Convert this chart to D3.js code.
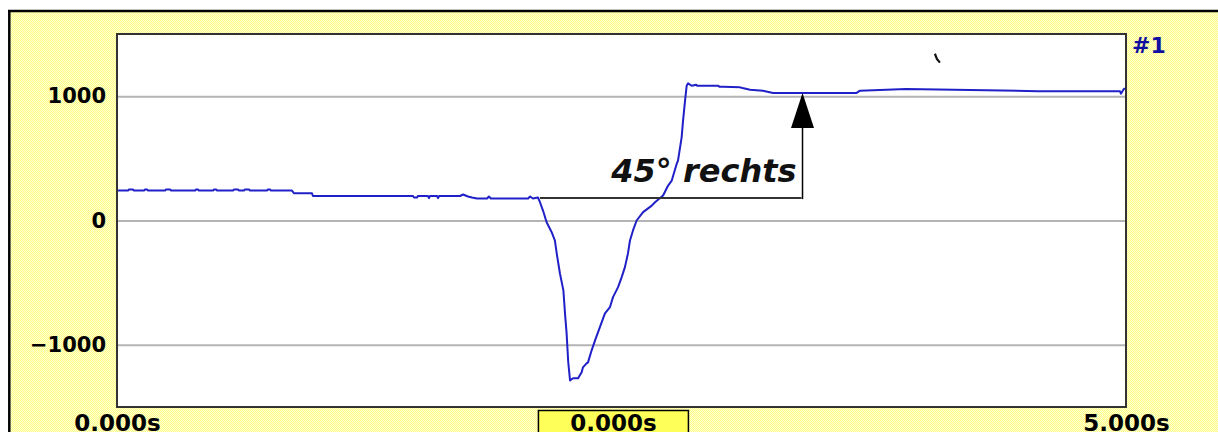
<!DOCTYPE html>
<html>
<head>
<meta charset="utf-8">
<script src="https://cdn.jsdelivr.net/npm/d3@7"></script>
<style>
html,body{margin:0;padding:0;background:#fff;}
svg{display:block;}
</style>
</head>
<body>
<script>
// ---- data ----
const timeS = [0,0.0545,0.0595,0.079,0.084,0.134,0.139,0.149,0.154,0.238,0.243,0.263,0.268,0.387,0.391,0.401,0.406,0.476,0.481,0.491,0.496,0.575,0.580,0.600,0.605,0.629,0.634,0.654,0.659,0.743,0.748,0.758,0.763,0.867,0.877,0.966,0.971,1.467,1.472,1.487,1.491,1.541,1.546,1.551,1.586,1.591,1.596,1.700,1.715,1.739,1.759,1.784,1.834,1.843,1.853,2.037,2.047,2.061,2.086,
  2.096,2.111,2.129,2.154,2.170,2.179,2.195,2.212,2.220,2.228,2.236,2.245,2.260,2.285,2.303,2.309,2.327,2.334,2.352,2.369,2.393,2.418,2.443,2.458,2.483,2.501,2.517,2.532,2.542,2.557,2.575,2.607,2.650,2.666,2.706,2.731,2.749,2.774,2.780,2.798,2.805,2.815,2.823,2.830,2.848,2.870,2.875,2.922,2.980,2.985,3.003,3.087,3.100,3.137,3.201,3.251,3.385,3.665,3.682,3.910,4.564,4.970,4.975,4.990,5.0];
const signal = [241,241,249,249,241,241,249,249,241,241,249,249,241,241,249,249,241,241,249,249,241,241,249,249,241,241,249,249,241,241,249,249,241,241,219,219,197,197,185,185,197,197,180,197,197,180,197,197,209,193,185,177,177,193,177,177,193,177,185,
  147,80,-14,-94,-161,-265,-426,-562,-747,-908,-1138,-1286,-1269,-1269,-1218,-1181,-1149,-1141,-1044,-964,-857,-747,-696,-616,-536,-455,-375,-265,-161,-80,0,67,120,147,201,281,321,458,482,669,803,964,1084,1103,1084,1092,1084,1084,1084,1076,1076,1071,1065,1052,1044,1026,1026,1026,1044,1058,1040,1040,1020,1060,1060];
const yTicks = [-1000, 0, 1000];
const xTicks = [0, 5];
const xTickLabels = ["0.000s", "5.000s"];
const cursorTime = 2.46;
const cursorLabel = "0.000s";
const channelLabel = "#1";
const annotText = "45° rechts";
const annotTime = 3.397;      // arrow position
const annotFrom = 2.096;      // start of horizontal reference line
const annotBase = 180;        // level of reference line
const annotTarget = 1026;     // arrow tip level
const strayMark = [[4.053, 1341], [4.063, 1300], [4.078, 1270]];

// ---- layout ----
const W = 1218, H = 432;
const svg = d3.select("body").append("svg").attr("width", W).attr("height", H);
const defs = svg.append("defs");
const pat = defs.append("pattern").attr("id","dots").attr("width",2).attr("height",2)
  .attr("patternUnits","userSpaceOnUse");
pat.append("rect").attr("width",2).attr("height",2).attr("fill","#ffffd2");
pat.append("rect").attr("width",1).attr("height",1).attr("fill","#ffff88");
pat.append("rect").attr("x",1).attr("y",1).attr("width",1).attr("height",1).attr("fill","#ffff88");

// outer frame
svg.append("rect").attr("x",0).attr("y",0).attr("width",W).attr("height",H).attr("fill","#fff");
svg.append("rect").attr("x",9).attr("y",11).attr("width",W-9).attr("height",H-11).attr("fill","url(#dots)");
svg.append("line").attr("x1",8).attr("x2",W).attr("y1",11).attr("y2",11).attr("stroke","#000").attr("stroke-width",2.5);
svg.append("line").attr("x1",9.3).attr("x2",9.3).attr("y1",10).attr("y2",H).attr("stroke","#000").attr("stroke-width",2.5);

const L = 117, R = 1126, T = 34, B = 407;
const x = d3.scaleLinear().domain([0,5]).range([L,R]);
const y = d3.scaleLinear().domain([-1500,1500]).range([B,T]);

svg.append("rect").attr("x",L).attr("y",T).attr("width",R-L).attr("height",B-T).attr("fill","#fff");

// y axis + grid
const yAxis = d3.axisLeft(y).tickValues(yTicks).tickSizeInner(-(R-L)).tickSizeOuter(0).tickPadding(11)
  .tickFormat(d => d < 0 ? "\u22121000".replace("1000", Math.abs(d)) : String(d));
const gy = svg.append("g").attr("transform",`translate(${L},0)`).call(yAxis);
gy.select(".domain").remove();
gy.selectAll(".tick line").attr("stroke","#b4b4b4").attr("stroke-width",2);
gy.selectAll(".tick text").attr("font-family","DejaVu Sans").attr("font-weight","bold")
  .attr("font-size",21).attr("fill","#000");

// x axis labels
const xAxis = d3.axisBottom(x).tickValues(xTicks).tickSize(0).tickPadding(0)
  .tickFormat((d,i) => xTickLabels[i]);
const gx = svg.append("g").attr("transform",`translate(0,${B})`).call(xAxis);
gx.select(".domain").remove();
gx.selectAll(".tick text").attr("dy",null).attr("y",24).attr("font-family","DejaVu Sans")
  .attr("font-weight","bold").attr("font-size",23).attr("fill","#000");

// cursor readout box
svg.append("rect").attr("x",x(cursorTime)-75).attr("y",410.5).attr("width",150).attr("height",30)
  .attr("fill","#ffff5a").attr("stroke","#000").attr("stroke-width",1.5);
svg.append("text").attr("x",x(cursorTime)).attr("y",431).attr("text-anchor","middle")
  .attr("font-family","DejaVu Sans").attr("font-weight","bold").attr("font-size",23).text(cursorLabel);

// signal line
const pts = timeS.map((t,i)=>[t,signal[i]]);
svg.append("path").datum(pts)
  .attr("d", d3.line().x(d=>x(d[0])).y(d=>y(d[1])))
  .attr("fill","none").attr("stroke","#2020c8").attr("stroke-width",2).attr("stroke-linejoin","round");

// stray mark
svg.append("path").datum(strayMark).attr("d", d3.line().x(d=>x(d[0])).y(d=>y(d[1])))
  .attr("fill","none").attr("stroke","#111").attr("stroke-width",2.2);

// annotation
svg.append("line").attr("x1",x(annotFrom)).attr("x2",x(annotTime)-1).attr("y1",y(annotBase)).attr("y2",y(annotBase))
  .attr("stroke","#333").attr("stroke-width",2);
const tipY = y(annotTarget), baseY = tipY + 35;
svg.append("line").attr("x1",x(annotTime)).attr("x2",x(annotTime)).attr("y1",y(annotBase)+1).attr("y2",baseY)
  .attr("stroke","#000").attr("stroke-width",1.5);
svg.append("path").attr("d",`M${x(annotTime)},${tipY} L${x(annotTime)+11.5},${baseY} L${x(annotTime)-11.5},${baseY} Z`)
  .attr("fill","#000");
svg.append("text").attr("x",x(annotTime)-6).attr("y",y(annotBase)-16).attr("text-anchor","end")
  .attr("font-family","DejaVu Sans").attr("font-weight","bold").attr("font-style","italic")
  .attr("font-size",32).attr("fill","#111").text(annotText);

// plot border
svg.append("rect").attr("x",L).attr("y",T).attr("width",R-L).attr("height",B-T)
  .attr("fill","none").attr("stroke","#333").attr("stroke-width",2);

// channel label
svg.append("text").attr("x",1132).attr("y",53).attr("font-family","DejaVu Sans").attr("font-weight","bold")
  .attr("font-size",22).attr("fill","#1010a0").text(channelLabel);
</script>
</body>
</html>
